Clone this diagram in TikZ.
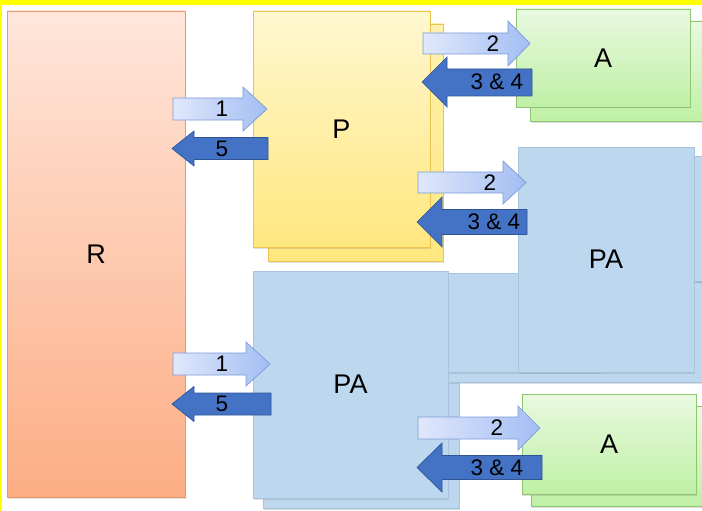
\documentclass[tikz,border=0pt]{standalone}
\usepackage{fontspec}
\setmainfont{Liberation Sans}
\usetikzlibrary{shadows}
\definecolor{rtop}{HTML}{FFE6DB}
\definecolor{rbot}{HTML}{FCAD84}
\definecolor{rline}{HTML}{E8996C}
\definecolor{ptop}{HTML}{FFF7D0}
\definecolor{pbot}{HTML}{FFE77F}
\definecolor{pline}{HTML}{EBC44F}
\definecolor{atop}{HTML}{E9F9E1}
\definecolor{abot}{HTML}{BFF0A5}
\definecolor{aline}{HTML}{8FC470}
\definecolor{pafill}{HTML}{BDD7EE}
\definecolor{paline}{HTML}{A8C3DD}
\definecolor{ltL}{HTML}{E0E8FB}
\definecolor{ltR}{HTML}{A3BDF3}
\definecolor{ltline}{HTML}{7C9BD8}
\definecolor{dkfill}{HTML}{4472C4}
\definecolor{dkline}{HTML}{2F5597}
\tikzset{
  boxbase/.style={inner sep=0pt, outer sep=0pt, line width=0.6pt,
    font=\fontsize{27}{27}\selectfont,
    drop shadow={shadow xshift=1.2pt, shadow yshift=-1.5pt, opacity=0.25}},
  rbox/.style={boxbase, draw=rline, top color=rtop, bottom color=rbot},
  pbox/.style={boxbase, draw=pline, top color=ptop, bottom color=pbot},
  pbackbox/.style={boxbase, draw=pline, top color=ptop!60!pbot, bottom color=pbot},
  abox/.style={boxbase, draw=aline, top color=atop, bottom color=abot},
  pabox/.style={boxbase, draw=paline, line width=0.4pt, fill=pafill},
  lightarrow/.style={draw=ltline, line width=0.7pt, left color=ltL, right color=ltR},
  darkarrow/.style={draw=dkline, line width=0.7pt, fill=dkfill},
  numlabel/.style={inner sep=0pt, font=\fontsize{22.5}{22.5}\selectfont}
}
\begin{document}
\begin{tikzpicture}[x=1pt,y=-1pt]
\useasboundingbox (0,0) rectangle (702,511);
\fill[white] (0,0) rectangle (702,511);

% R
\node[rbox, minimum width=178pt, minimum height=486pt] (R) at (96,254) {R};

% P stack
\node[pbackbox, minimum width=175pt, minimum height=237pt] (Pb) at (355.5,142.5) {};
\node[pbox, minimum width=177pt, minimum height=236pt] (P) at (341.5,129) {P};

% top A stack
\node[abox, minimum width=182pt, minimum height=100pt] (A1b) at (621,71) {};
\node[abox, minimum width=174pt, minimum height=98pt] (A1) at (603,58) {A};

% bottom PA back
\node[pabox, minimum width=196pt, minimum height=225pt] (PA2b) at (361,395.5) {};

% right PA stack
\node[pabox, minimum width=264pt, minimum height=100pt] (PAb1) at (580,332) {};
\node[pabox, minimum width=182pt, minimum height=125pt] (PAb3) at (621,218.5) {};
\node[pabox, minimum width=152pt, minimum height=99pt] (PAb2) at (524,322.5) {};
\node[pabox, minimum width=176pt, minimum height=225pt] (PA1) at (606,259.5) {PA};

% bottom PA front
\node[pabox, minimum width=195pt, minimum height=227pt] (PA2) at (350.5,384.5) {PA};

% bottom A stack
\node[abox, minimum width=181pt, minimum height=100pt] (A2b) at (621.5,456) {};
\node[abox, minimum width=174pt, minimum height=100pt] (A2) at (609,444) {A};

% left arrows, top
\draw[lightarrow] (173,98) -- (243,98) -- (243,87) -- (267,109) -- (243,131) -- (243,120) -- (173,120) -- cycle;
\node[numlabel] (l1a) at (222,109) {1};
\draw[darkarrow] (268,137.5) -- (194,137.5) -- (194,131) -- (172,148.5) -- (194,166) -- (194,159.5) -- (268,159.5) -- cycle;
\node[numlabel] (l5a) at (222,148.5) {5};

% left arrows, bottom
\draw[lightarrow] (173,353) -- (246,353) -- (246,342) -- (270,364) -- (246,386) -- (246,375) -- (173,375) -- cycle;
\node[numlabel] (l1b) at (222,364) {1};
\draw[darkarrow] (271,393) -- (194,393) -- (194,386.5) -- (172,404) -- (194,421.5) -- (194,415) -- (271,415) -- cycle;
\node[numlabel] (l5b) at (222,404) {5};

% top right arrows
\draw[lightarrow] (423,33) -- (508,33) -- (508,21) -- (530,43.5) -- (508,66) -- (508,54) -- (423,54) -- cycle;
\node[numlabel] (r2a) at (493,43.5) {2};
\draw[darkarrow] (532,69) -- (447,69) -- (447,57) -- (422,82) -- (447,107) -- (447,96) -- (532,96) -- cycle;
\node[numlabel] (r34a) at (497,82) {3 \& 4};

% middle arrows
\draw[lightarrow] (418,172) -- (503,172) -- (503,161) -- (526,182.5) -- (503,204) -- (503,193) -- (418,193) -- cycle;
\node[numlabel] (r2b) at (490,182.5) {2};
\draw[darkarrow] (527,209.5) -- (442,209.5) -- (442,197) -- (417,222) -- (442,247) -- (442,234.5) -- (527,234.5) -- cycle;
\node[numlabel] (r34b) at (494,222) {3 \& 4};

% bottom arrows
\draw[lightarrow] (418,417) -- (518,417) -- (518,406) -- (540,428) -- (518,450) -- (518,439) -- (418,439) -- cycle;
\node[numlabel] (r2c) at (497,428) {2};
\draw[darkarrow] (542,455.5) -- (442,455.5) -- (442,443) -- (417,467.5) -- (442,492) -- (442,479.5) -- (542,479.5) -- cycle;
\node[numlabel] (r34c) at (497,467.5) {3 \& 4};

% yellow frame
\fill[fill={rgb,255:red,255;green,255;blue,0}] (0,0) rectangle (702,5);
\fill[fill={rgb,255:red,255;green,255;blue,0}] (0,0) rectangle (2,511);
\end{tikzpicture}
\end{document}
